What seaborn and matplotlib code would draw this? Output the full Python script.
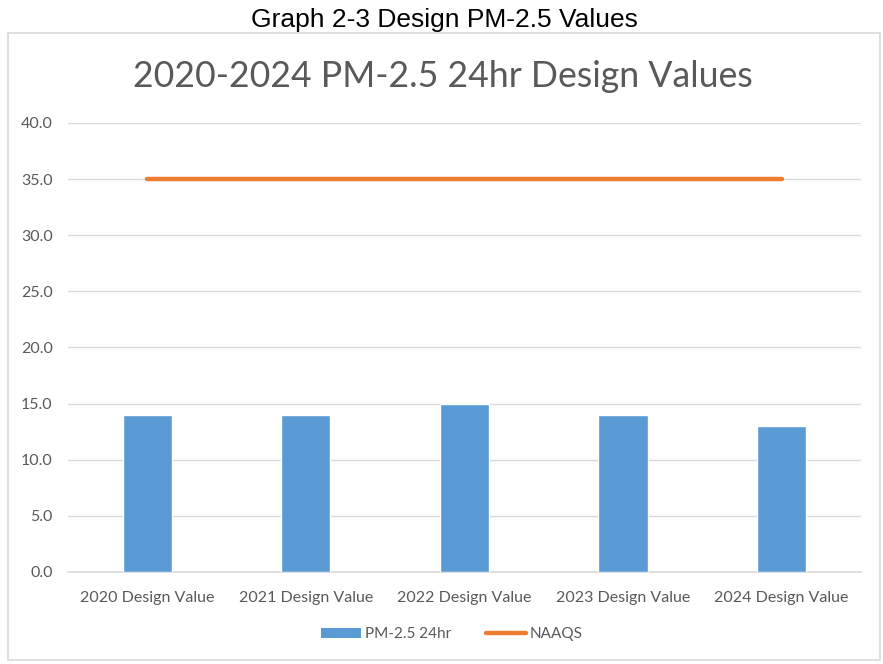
import matplotlib
matplotlib.use("Agg")
import matplotlib.pyplot as plt
from matplotlib.patches import Rectangle, Patch
from matplotlib.lines import Line2D
import seaborn as sns
import pandas as pd

# Data
categories = ["2020 Design Value", "2021 Design Value", "2022 Design Value",
              "2023 Design Value", "2024 Design Value"]
pm25_24hr = [14.0, 14.0, 15.0, 14.0, 13.0]
naaqs = [35.0, 35.0, 35.0, 35.0, 35.0]
y_ticks = [0, 5, 10, 15, 20, 25, 30, 35, 40]

BLUE = "#5B9BD5"
ORANGE = "#ED7D31"
GREY_TXT = "#595959"
GRID = "#D9D9D9"

sns.set_theme(style="white")
plt.rcParams["font.family"] = ["Lato", "DejaVu Sans"]

df = pd.DataFrame({"category": categories, "pm": pm25_24hr, "naaqs": naaqs})

fig = plt.figure(figsize=(8.83, 6.64), dpi=100)
ax = fig.add_axes([0.077, 0.1386, 0.898, 0.6762])

sns.barplot(data=df, x="category", y="pm", color=BLUE, saturation=1,
            width=0.31, ax=ax, zorder=3)
sns.lineplot(data=df, x="category", y="naaqs", color=ORANGE, linewidth=3.2,
             ax=ax, zorder=4, solid_capstyle="round")

ax.set_xlim(-0.5, len(categories) - 0.5)
ax.set_ylim(0, 40)
ax.set_yticks(y_ticks)
ax.set_yticklabels([f"{v:.1f}" for v in y_ticks])
ax.yaxis.grid(True, color=GRID, linewidth=1)
ax.set_axisbelow(True)
for s in ["top", "right", "left"]:
    ax.spines[s].set_visible(False)
ax.spines["bottom"].set_color(GRID)
ax.spines["bottom"].set_linewidth(1.2)
ax.tick_params(axis="both", length=0, colors=GREY_TXT, labelsize=11.5)
ax.tick_params(axis="x", pad=14)
ax.tick_params(axis="y", pad=11)
ax.set_xlabel("")
ax.set_ylabel("")

# chart frame and titles
fig.patches.append(Rectangle((8 / 883, 4 / 664), 872 / 883, 627 / 664,
                             transform=fig.transFigure, fill=False,
                             edgecolor=GRID, linewidth=1.2))
fig.text(0.503, 0.970, "Graph 2-3 Design PM-2.5 Values", ha="center", va="center",
         fontsize=19, family=["Liberation Sans", "DejaVu Sans"], color="black")
fig.text(0.502, 0.885, "2020-2024 PM-2.5 24hr Design Values", ha="center", va="center",
         fontsize=25.7, color=GREY_TXT)

handles = [Patch(facecolor=BLUE, edgecolor="none"),
           Line2D([0], [0], color=ORANGE, linewidth=3.2)]
fig.legend(handles, ["PM-2.5 24hr", "NAAQS"], loc="center", ncol=2,
           bbox_to_anchor=(0.512, 0.045), frameon=False, fontsize=11,
           labelcolor=GREY_TXT, handlelength=2.6, handleheight=0.6,
           columnspacing=2.3, handletextpad=0.25)

fig.savefig("out.png", dpi=100)
plt.close(fig)
